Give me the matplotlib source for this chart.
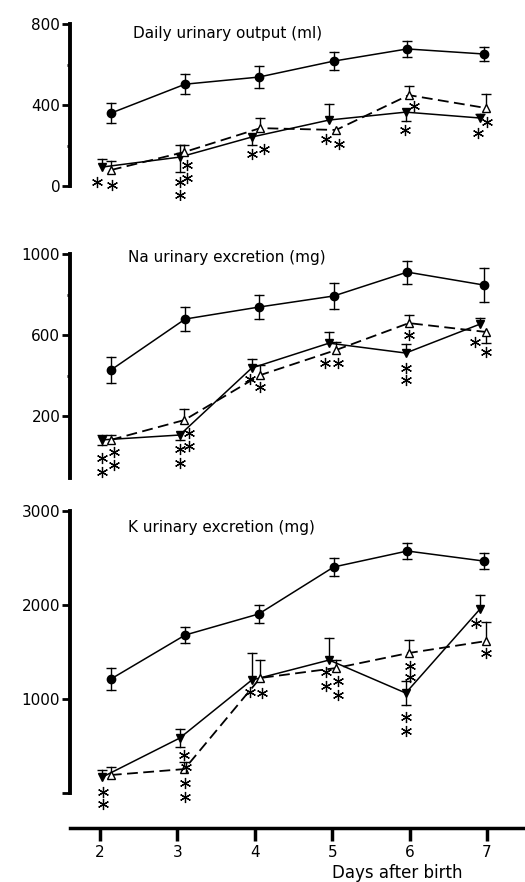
import matplotlib
matplotlib.use('Agg')
import matplotlib.pyplot as plt
from matplotlib.transforms import offset_copy

plt.rcParams['font.family'] = ['DejaVu Sans']

# x positions of the points (days after birth, as drawn)
days = [2, 3, 4, 5, 6, 7]
x_ctrl = [2.14, 3.10, 4.05, 5.02, 5.97, 6.96]
x_fill = [2.03, 3.03, 3.96, 4.96, 5.95, 6.91]
x_open = [2.14, 3.09, 4.07, 5.05, 5.99, 6.99]

# Daily urinary output (ml)
urine_ctrl = [360, 503, 538, 617, 677, 652]
urine_ctrl_err = [48, 48, 53, 44, 39, 34]
urine_fill = [94, 143, 242, 326, 365, 336]
urine_fill_up = [39, 59, 0, 79, 0, 20]
urine_fill_dn = [0, 75, 40, 0, 44, 0]
urine_open = [79, 168, 286, 277, 449, 385]
urine_open_up = [44, 34, 49, 0, 44, 69]
urine_open_dn = [0, 0, 0, 0, 0, 0]

# Na urinary excretion (mg)
na_ctrl = [427, 679, 738, 793, 911, 847]
na_ctrl_err = [65, 58, 61, 64, 57, 84]
na_fill = [82, 106, 437, 560, 511, 654]
na_fill_up = [25, 0, 44, 54, 44, 30]
na_fill_dn = [25, 25, 0, 0, 0, 0]
na_open = [82, 180, 402, 526, 659, 615]
na_open_up = [25, 54, 49, 40, 40, 0]
na_open_dn = [0, 0, 0, 0, 0, 54]

# K urinary excretion (mg)
k_ctrl = [1213, 1681, 1905, 2405, 2575, 2468]
k_ctrl_err = [117, 85, 100, 100, 85, 85]
k_fill = [170, 585, 1202, 1415, 1064, 1958]
k_fill_up = [70, 100, 290, 235, 130, 150]
k_fill_dn = [0, 100, 0, 0, 130, 0]
k_open = [192, 255, 1224, 1330, 1490, 1617]
k_open_up = [85, 75, 190, 85, 140, 200]
k_open_dn = [0, 0, 0, 0, 0, 0]

# significance stars: (series, day index, dx px, dy px below the point)
urine_stars = [('fill', 0, -5, 15), ('open', 0, 1, 15),
               ('fill', 1, 0, 25), ('fill', 1, 0, 38), ('open', 1, 3, 13), ('open', 1, 3, 26),
               ('fill', 2, 0, 17), ('open', 2, 4, 21),
               ('fill', 3, -3, 19), ('open', 3, 3, 14),
               ('fill', 4, -1, 18), ('open', 4, 5, 11),
               ('fill', 5, -2, 15), ('open', 5, 1, 14)]
na_stars = [('fill', 0, 0, 18), ('fill', 0, 0, 32), ('open', 0, 3, 12), ('open', 0, 3, 25),
            ('fill', 1, 0, 14), ('fill', 1, 0, 28), ('open', 1, 5, 13), ('open', 1, 5, 26),
            ('fill', 2, -2, 11), ('open', 2, 0, 12),
            ('fill', 3, -4, 20), ('open', 3, 2, 13),
            ('fill', 4, 0, 15), ('fill', 4, 0, 27), ('open', 4, 0, 12),
            ('fill', 5, -5, 18), ('open', 5, 0, 20)]
k_stars = [('fill', 0, 1, 15), ('fill', 0, 1, 27),
           ('fill', 1, 4, 17), ('fill', 1, 6, 29), ('open', 1, 1, 14), ('open', 1, 1, 28),
           ('fill', 2, -2, 12), ('open', 2, 2, 15),
           ('fill', 3, -3, 12), ('fill', 3, -3, 26), ('open', 3, 2, 13), ('open', 3, 2, 27),
           ('fill', 4, 0, 24), ('fill', 4, 0, 38), ('open', 4, 1, 13), ('open', 4, 1, 24),
           ('fill', 5, -4, 14), ('open', 5, 0, 12)]

fig = plt.figure(figsize=(5.25, 8.82), dpi=100)


def bars(ax, x, y, up, dn):
    for xi, yi, u, d in zip(x, y, up, dn):
        for e in (u, -d):
            if e:
                ax.plot([xi, xi], [yi, yi + e], color='k', lw=1.0, zorder=2)
                ax.plot(xi, yi + e, marker='_', ms=7, mew=1.0, color='k', zorder=2)


def panel(rect, ylim, spine_lo, spine_hi, ticks, minor, title, title_pos,
          ctrl, ctrl_err, fill, fill_up, fill_dn, opn, opn_up, opn_dn, stars):
    ax = fig.add_axes(rect)
    ax.set_xlim(1.612, 7.491)
    ax.set_ylim(*ylim)
    bars(ax, x_ctrl, ctrl, ctrl_err, ctrl_err)
    bars(ax, x_fill, fill, fill_up, fill_dn)
    bars(ax, x_open, opn, opn_up, opn_dn)
    ax.plot(x_ctrl, ctrl, '-', color='k', lw=1.1, marker='o', ms=6, zorder=3)
    ax.plot(x_fill, fill, '-', color='k', lw=1.1, marker='v', ms=6.2, zorder=3)
    ax.plot(x_open, opn, color='k', lw=1.3, dashes=(6, 3), marker='^', ms=6.2,
            mfc='white', mec='k', mew=1.0, zorder=4)
    for s, i, dx, dy in stars:
        xs, ys = (x_fill, fill) if s == 'fill' else (x_open, opn)
        tr = offset_copy(ax.transData, fig=fig, x=dx, y=-dy, units='dots')
        ax.plot(xs[i], ys[i], marker=(6, 2, 0), ms=8, mew=0.9, color='k',
                transform=tr, zorder=5)
    for side in ('top', 'right', 'bottom'):
        ax.spines[side].set_visible(False)
    ax.spines['left'].set_linewidth(2.8)
    ax.spines['left'].set_bounds(spine_lo, spine_hi)
    ax.set_yticks(ticks)
    ax.set_yticks(minor, minor=True)
    ax.tick_params(axis='y', which='major', direction='out', length=6, width=2,
                   labelsize=11, pad=1)
    ax.tick_params(axis='y', which='minor', direction='out', length=2, width=2)
    ax.set_xticks([])
    ax.text(title_pos[0], title_pos[1], title, transform=ax.transAxes,
            fontsize=11, ha='left', va='center')
    return ax


panel([0.1333, 0.7732, 0.8667, 0.2154], (-69, 869), 0, 800,
      [0, 400, 800], [200, 600], 'Daily urinary output (ml)', (0.138, 0.879),
      urine_ctrl, urine_ctrl_err, urine_fill, urine_fill_up, urine_fill_dn,
      urine_open, urine_open_up, urine_open_dn, urine_stars)

panel([0.1333, 0.4501, 0.8667, 0.2834], (-141, 1094), -106, 1000,
      [200, 600, 1000], [400, 800], 'Na urinary excretion (mg)', (0.127, 0.912),
      na_ctrl, na_ctrl_err, na_fill, na_fill_up, na_fill_dn,
      na_open, na_open_up, na_open_dn, na_stars)

ax = panel([0.1333, 0.0612, 0.8667, 0.3776], (-372, 3171), 0, 3000,
           [1000, 2000, 3000], [], 'K urinary excretion (mg)', (0.127, 0.901),
           k_ctrl, k_ctrl_err, k_fill, k_fill_up, k_fill_dn,
           k_open, k_open_up, k_open_dn, k_stars)
# unlabeled tick at the foot of the K axis
ax.set_yticks([0, 1000, 2000, 3000], ['', '1000', '2000', '3000'])
ax.spines['bottom'].set_visible(True)
ax.spines['bottom'].set_linewidth(2.5)
ax.set_xticks(days)
ax.tick_params(axis='x', direction='out', length=9, width=2.5, labelsize=11, pad=3)
ax.text(0.72, -0.135, 'Days after birth', transform=ax.transAxes,
        fontsize=12, ha='center', va='center')

fig.savefig('out.png', dpi=100, facecolor='white')
